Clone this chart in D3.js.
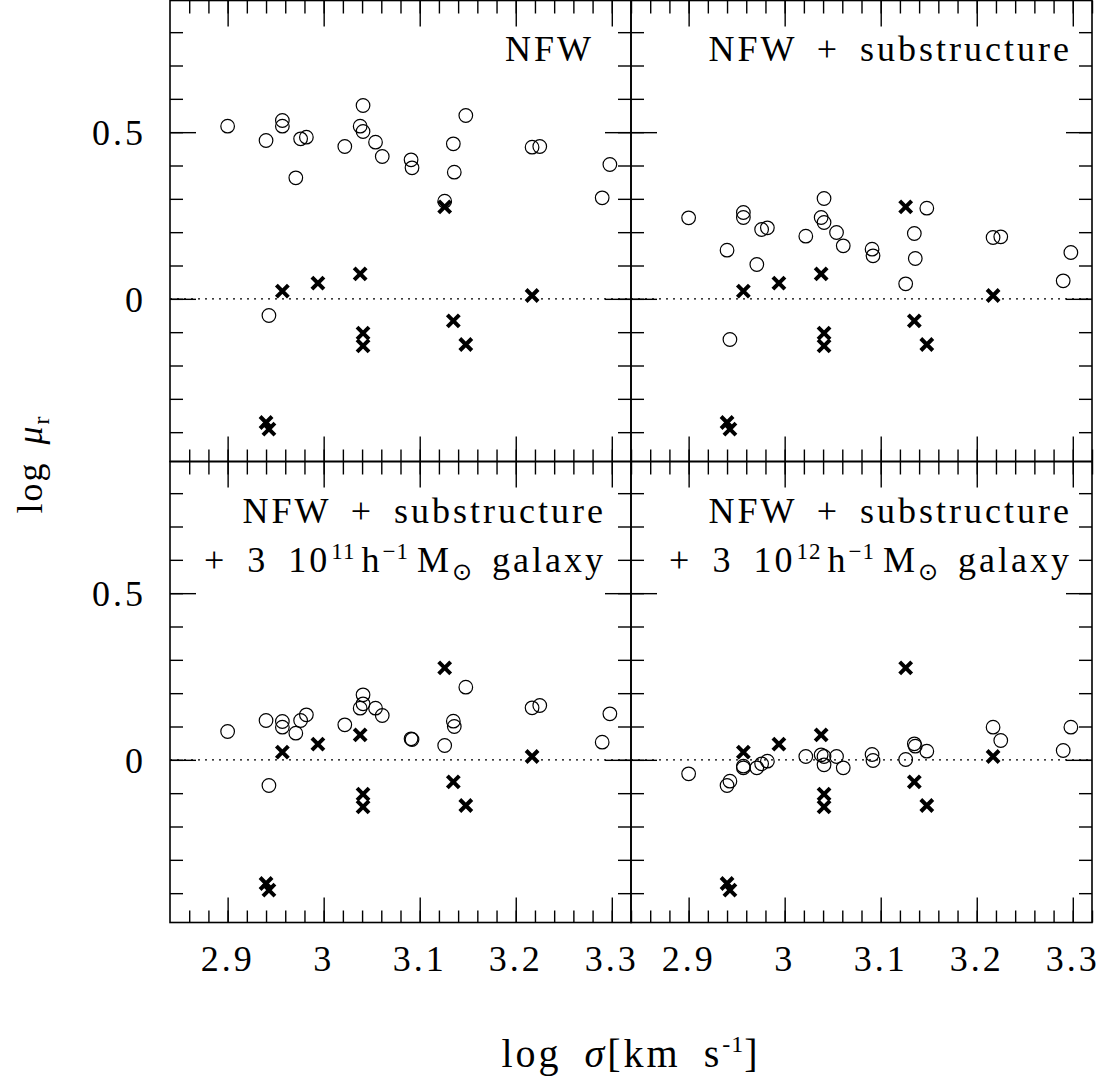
<!DOCTYPE html>
<html>
<head>
<meta charset="utf-8">
<script src="https://cdn.jsdelivr.net/npm/d3@7"></script>
<style>
  body { margin: 0; background: #fff; }
  text { font-family: "Liberation Serif", "Times New Roman", serif; fill: #000; }
</style>
</head>
<body>
<div id="main"></div>
<script>
// model halos: log sigma, shared by all four panels
const sigma = [2.900, 2.940, 2.957, 2.957, 2.976, 2.982, 2.971, 3.022, 3.041, 3.038, 3.041, 3.054,
    3.061, 3.091, 3.092, 3.135, 3.148, 3.136, 3.126, 3.217, 3.225, 3.298, 3.290, 2.943];

// log mu_r for each model
const muNFW = [0.518, 0.475, 0.535, 0.518, 0.480, 0.485, 0.363, 0.457, 0.580, 0.518, 0.502, 0.470,
    0.427, 0.417, 0.393, 0.465, 0.550, 0.380, 0.293, 0.455, 0.457, 0.403, 0.303, -0.050];
const muSub = [0.243, 0.146, 0.259, 0.244, 0.208, 0.213, 0.103, 0.188, 0.301, 0.244, 0.229, 0.199,
    0.159, 0.149, 0.129, 0.196, 0.272, 0.121, 0.045, 0.184, 0.186, 0.139, 0.054, -0.122];
const muGal11 = [0.085, 0.118, 0.115, 0.098, 0.118, 0.135, 0.080, 0.105, 0.195, 0.155, 0.168, 0.155,
    0.133, 0.063, 0.061, 0.116, 0.218, 0.100, 0.043, 0.156, 0.163, 0.138, 0.053, -0.077];
const muGal12 = [-0.042, -0.077, -0.019, -0.024, -0.012, -0.004, -0.024, 0.010, 0.010, 0.015, -0.015, 0.010,
    -0.024, 0.016, -0.002, 0.048, 0.026, 0.041, 0.001, 0.098, 0.058, 0.098, 0.028, -0.064];

// observed lenses (crosses), same in every panel
const obsSigma = [2.957, 2.994, 3.038, 3.126, 3.217, 3.135, 3.148, 3.041, 3.041, 2.940, 2.943];
const obsMu = [0.023, 0.047, 0.075, 0.276, 0.010, -0.066, -0.137, -0.103, -0.141, -0.371, -0.391];

const xMajor = [2.9, 3.0, 3.1, 3.2, 3.3];
const xLabels = ["2.9", "3", "3.1", "3.2", "3.3"];
const yMajor = [0, 0.5];
const yLabels = ["0", "0.5"];

const w = 1107, h = 1083;
const pw = 461, ph = 461;
const colX = [170, 631];
const rowY = [0.5, 461.5];

const panels = [
    {col: 0, row: 0, mu: muNFW},
    {col: 1, row: 0, mu: muSub},
    {col: 0, row: 1, mu: muGal11},
    {col: 1, row: 1, mu: muGal12}
];

const svg = d3.select("#main").append("svg").attr("width", w).attr("height", h);

function addTicks(g, axis, tr, vals, len) {
    g.append("g")
        .attr("transform", tr)
        .call(axis.tickValues(vals).tickSize(-len).tickFormat(""))
        .call(a => a.select(".domain").remove())
        .selectAll("line").attr("stroke", "#000").attr("stroke-width", 1.4);
}

const xMinor = d3.range(2.86, 3.321, 0.02);
const yMinor = d3.range(-0.4, 0.85, 0.1);

panels.forEach(p => {
    const x0 = colX[p.col], y0 = rowY[p.row];
    const x = d3.scaleLinear().domain([2.84, 3.32]).range([x0, x0 + pw]);
    const y = d3.scaleLinear().domain([-0.488, 0.895]).range([y0 + ph, y0]);
    const g = svg.append("g");

    // ticks on all four sides, pointing inward
    addTicks(g, d3.axisBottom(x), "translate(0," + (y0 + ph) + ")", xMinor, 12);
    addTicks(g, d3.axisBottom(x), "translate(0," + (y0 + ph) + ")", xMajor, 25);
    addTicks(g, d3.axisTop(x), "translate(0," + y0 + ")", xMinor, 13);
    addTicks(g, d3.axisTop(x), "translate(0," + y0 + ")", xMajor, 26);
    addTicks(g, d3.axisLeft(y), "translate(" + x0 + ",0)", yMinor, 13);
    addTicks(g, d3.axisLeft(y), "translate(" + x0 + ",0)", yMajor, 26);
    addTicks(g, d3.axisRight(y), "translate(" + (x0 + pw) + ",0)", yMinor, 13);
    addTicks(g, d3.axisRight(y), "translate(" + (x0 + pw) + ",0)", yMajor, 26);

    g.append("rect")
        .attr("x", x0).attr("y", y0).attr("width", pw).attr("height", ph)
        .attr("fill", "none").attr("stroke", "#000").attr("stroke-width", 1.6);

    // dotted zero line
    g.append("line")
        .attr("x1", x.range()[0]).attr("x2", x.range()[1])
        .attr("y1", y(0)).attr("y2", y(0))
        .attr("stroke", "#000").attr("stroke-width", 1.3)
        .attr("stroke-dasharray", "2,5");

    // model circles
    g.selectAll("circle")
        .data(sigma)
        .enter()
        .append("circle")
        .attr("cx", d => x(d))
        .attr("cy", (d, i) => y(p.mu[i]))
        .attr("r", 6.8)
        .attr("fill", "none")
        .attr("stroke", "#000")
        .attr("stroke-width", 1.2);

    // observed crosses
    const s = 6;
    g.selectAll("path.cross")
        .data(obsSigma)
        .enter()
        .append("path")
        .attr("class", "cross")
        .attr("d", (d, i) => {
            const cx = x(d), cy = y(obsMu[i]);
            return "M" + (cx - s) + "," + (cy - s) + "L" + (cx + s) + "," + (cy + s) +
                "M" + (cx - s) + "," + (cy + s) + "L" + (cx + s) + "," + (cy - s);
        })
        .attr("stroke", "#000")
        .attr("stroke-width", 4)
        .attr("fill", "none");

    // tick labels
    if (p.row === 1) {
        g.selectAll("text.xl")
            .data(xMajor)
            .enter()
            .append("text")
            .attr("class", "xl")
            .attr("x", d => x(d))
            .attr("y", 971)
            .attr("text-anchor", "middle")
            .style("font-size", "36px")
            .style("letter-spacing", "3px")
            .text((d, i) => xLabels[i]);
    }
    if (p.col === 0) {
        g.selectAll("text.yl")
            .data(yMajor)
            .enter()
            .append("text")
            .attr("class", "yl")
            .attr("x", 146)
            .attr("y", d => y(d))
            .attr("dy", "0.36em")
            .attr("text-anchor", "end")
            .style("font-size", "36px")
            .style("letter-spacing", "3px")
            .text((d, i) => yLabels[i]);
    }
});

// panel captions
function caption(xEnd, yBase, parts) {
    const t = svg.append("text")
        .attr("x", xEnd).attr("y", yBase)
        .attr("text-anchor", "end")
        .style("font-size", "36px")
        .style("letter-spacing", "3px")
        .style("word-spacing", "8px");
    parts.forEach(pt => {
        const ts = t.append("tspan").text(pt.t);
        if (pt.dy) ts.attr("dy", pt.dy);
        if (pt.dx) ts.attr("dx", pt.dx);
        if (pt.size) ts.style("font-size", pt.size);
        if (pt.font) ts.style("font-family", pt.font);
        if (pt.ls !== undefined) ts.style("letter-spacing", pt.ls);
    });
}

caption(594, 61, [{t: "NFW"}]);
caption(1072, 61, [{t: "NFW + substructure"}]);
caption(606, 523, [{t: "NFW + substructure"}]);
caption(1072, 523, [{t: "NFW + substructure"}]);

function galaxyLine(xEnd, exp) {
    caption(xEnd, 572, [
        {t: "+ 3 10"},
        {t: exp, dy: -13, dx: 1, size: "23px", ls: "1px"},
        {t: "h", dy: 13, dx: 6},
        {t: "\u22121", dy: -13, size: "23px", ls: "1px"},
        {t: "M", dy: 13, dx: 8},
        {t: "\u2299", dy: 8, size: "24px", font: "DejaVu Sans", ls: "0px"},
        {t: " galaxy", dy: -8}
    ]);
}
galaxyLine(606, "11");
galaxyLine(1072, "12");

// axis titles
const yt = svg.append("text")
    .attr("transform", "translate(42,464) rotate(-90)")
    .attr("text-anchor", "middle")
    .style("font-size", "36px")
    .style("letter-spacing", "2px")
    .style("word-spacing", "6px");
yt.append("tspan").text("log ");
yt.append("tspan").text("\u03bc").style("font-style", "italic");
yt.append("tspan").text("r").attr("dy", 7).style("font-size", "24px");

const xt = svg.append("text")
    .attr("x", 631).attr("y", 1067)
    .attr("text-anchor", "middle")
    .style("font-size", "40px")
    .style("letter-spacing", "3px")
    .style("word-spacing", "10px");
xt.append("tspan").text("log ");
xt.append("tspan").text("\u03c3").style("font-style", "italic");
xt.append("tspan").text("[km s");
xt.append("tspan").text("-1").attr("dy", -15).style("font-size", "24px").style("letter-spacing", "1px");
xt.append("tspan").text("]").attr("dy", 15);
</script>
</body>
</html>
